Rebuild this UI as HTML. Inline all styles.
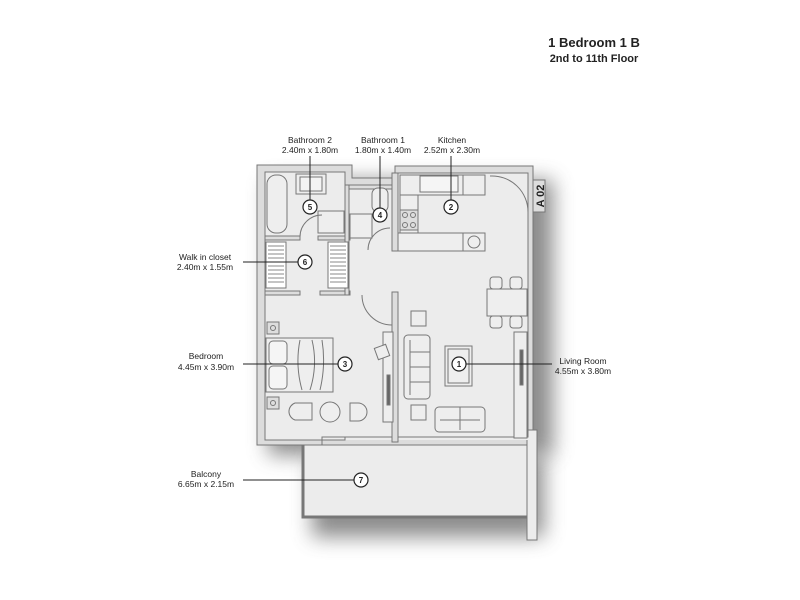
<!DOCTYPE html>
<html><head><meta charset="utf-8"><style>
html,body{margin:0;padding:0;background:#fff;width:800px;height:600px;overflow:hidden}
svg{display:block}
text{font-family:"Liberation Sans",sans-serif;fill:#222}
</style></head><body>
<svg width="800" height="600" viewBox="0 0 800 600" xmlns="http://www.w3.org/2000/svg">
<defs>
<filter id="sh" x="-20%" y="-20%" width="150%" height="150%"><feGaussianBlur stdDeviation="10"/></filter>
</defs>
<text x="594" y="47" font-size="13" font-weight="bold" text-anchor="middle">1 Bedroom 1 B</text>
<text x="594" y="62" font-size="11" font-weight="bold" text-anchor="middle">2nd to 11th Floor</text>

<!-- shadows -->
<rect x="268" y="180" width="285" height="275" fill="#666" filter="url(#sh)" opacity="0.75"/>
<rect x="312" y="455" width="232" height="82" fill="#666" filter="url(#sh)" opacity="0.75"/>

<g stroke="#777" stroke-width="1">
<!-- outer wall -->
<path d="M257 165 H352 V178 H395 V166 H533 V445 H257 Z" fill="#dcdcdc"/>
<rect x="303" y="445" width="225" height="72" fill="#ececec"/>
<path d="M303 445 V517 H528" fill="none" stroke-width="3" stroke="#777"/>
<rect x="527" y="430" width="10" height="110" fill="#ececec"/>
<!-- floors -->
<g stroke="none" fill="#ececec">
<rect x="265" y="172" width="80" height="268"/>
<rect x="345" y="185" width="183" height="255"/>
<rect x="398" y="173" width="130" height="80"/>
</g>
<path d="M265 172 H345 V185 H392 V173 H528 V437 H345 V440 H265 Z" fill="none"/>
<path d="M345 437 H322 V445" fill="none"/>
<!-- interior walls -->
<rect x="265" y="236" width="35" height="4" fill="#ddd"/>
<rect x="318" y="236" width="32" height="4" fill="#ddd"/>
<rect x="265" y="291" width="35" height="4" fill="#ddd"/>
<rect x="320" y="291" width="30" height="4" fill="#ddd"/>
<rect x="345" y="185" width="4" height="110" fill="#ddd"/>
<rect x="392" y="173" width="6" height="78" fill="#ddd"/>
<rect x="392" y="292" width="6" height="150" fill="#ddd"/>
<rect x="349" y="185" width="43" height="4" fill="#ddd"/>
<!-- bathroom2 -->
<rect x="267" y="175" width="20" height="58" rx="9" fill="#eee"/>
<rect x="296" y="174" width="30" height="20" fill="#eee"/>
<rect x="300" y="177" width="22" height="14" fill="#f3f3f3"/>
<rect x="318" y="211" width="26" height="22" fill="#eee"/>
<path d="M300 237 A 22 22 0 0 1 322 215" fill="none"/>
<!-- bathroom1 -->
<rect x="372" y="188" width="16" height="24" rx="6" fill="#eee"/>
<rect x="350" y="214" width="22" height="24" fill="#eee"/>
<path d="M368 250 A 22 22 0 0 1 390 228" fill="none"/>
<!-- kitchen -->
<rect x="400" y="175" width="85" height="20" fill="#eee"/>
<rect x="420" y="176" width="38" height="16" fill="#f5f5f5"/>
<rect x="463" y="175" width="22" height="20" fill="#eee"/>
<rect x="400" y="195" width="18" height="56" fill="#eee"/>
<rect x="400" y="210" width="18" height="20" fill="#ddd"/>
<circle cx="405" cy="215" r="2.5" fill="none"/><circle cx="413" cy="215" r="2.5" fill="none"/>
<circle cx="405" cy="225" r="2.5" fill="none"/><circle cx="413" cy="225" r="2.5" fill="none"/>
<rect x="398" y="233" width="87" height="18" fill="#eee"/>
<rect x="463" y="233" width="22" height="18" fill="#eee"/>
<circle cx="474" cy="242" r="6" fill="none"/>
<path d="M490 176 A 36 36 0 0 1 528 212" fill="none"/>
<rect x="533" y="180" width="12" height="32" fill="#ddd"/>
<!-- closet shelves -->
<g fill="#fff">
<rect x="266" y="242" width="20" height="46"/><rect x="328" y="242" width="20" height="46"/>
</g>
<g stroke="#888">
<path d="M268 246h16M268 250h16M268 254h16M268 258h16M268 262h16M268 266h16M268 270h16M268 274h16M268 278h16M268 282h16"/>
<path d="M330 246h16M330 250h16M330 254h16M330 258h16M330 262h16M330 266h16M330 270h16M330 274h16M330 278h16M330 282h16"/>
</g>
<path d="M362 295 A 30 30 0 0 0 392 325" fill="none"/>
<!-- bedroom -->
<rect x="267" y="322" width="12" height="12" fill="#ddd"/><circle cx="273" cy="328" r="2.5" fill="none"/>
<rect x="267" y="397" width="12" height="12" fill="#ddd"/><circle cx="273" cy="403" r="2.5" fill="none"/>
<rect x="266" y="338" width="67" height="54" fill="#eee"/>
<rect x="269" y="341" width="18" height="23" rx="4" fill="#f5f5f5"/>
<rect x="269" y="366" width="18" height="23" rx="4" fill="#f5f5f5"/>
<path d="M300 340 Q295 365 302 390 M312 340 Q318 365 310 390 M322 340 Q326 365 320 390" fill="none"/>
<path d="M295 403 H312 V420 H295 A9 9 0 0 1 295 403 Z" fill="#eee"/>
<circle cx="330" cy="412" r="10" fill="#eee"/>
<path d="M350 403 H358 A9 9 0 0 1 358 421 H350 Z" fill="#eee"/>
<rect x="383" y="332" width="10" height="90" fill="#eee"/>
<rect x="376" y="346" width="12" height="12" fill="#eee" transform="rotate(-20 382 352)"/>
<rect x="387" y="375" width="3" height="30" fill="#666"/>
<!-- living -->
<rect x="411" y="311" width="15" height="15" fill="#eee"/>
<rect x="411" y="405" width="15" height="15" fill="#eee"/>
<rect x="404" y="335" width="26" height="64" rx="4" fill="#eee"/>
<path d="M410 340 V395 M410 352 H430 M410 367 H430 M410 382 H430" fill="none"/>
<rect x="445" y="346" width="27" height="40" fill="#eee"/>
<rect x="448" y="349" width="21" height="34" fill="#eee"/>
<rect x="435" y="407" width="50" height="25" rx="4" fill="#eee"/>
<path d="M440 420 H480 M460 407 V430" fill="none"/>
<rect x="487" y="289" width="40" height="27" fill="#eee"/>
<rect x="490" y="277" width="12" height="12" rx="3" fill="#eee"/><rect x="510" y="277" width="12" height="12" rx="3" fill="#eee"/>
<rect x="490" y="316" width="12" height="12" rx="3" fill="#eee"/><rect x="510" y="316" width="12" height="12" rx="3" fill="#eee"/>
<rect x="514" y="332" width="13" height="106" fill="#eee"/>
<rect x="520" y="350" width="3" height="35" fill="#666"/>
</g>
<text x="540" y="196" font-size="11" font-weight="bold" fill="#444" transform="rotate(-90 540 196)" text-anchor="middle" dy="4">A 02</text>

<!-- callouts -->
<g stroke="#222" stroke-width="1" fill="none">
<path d="M310 156 V200"/><path d="M380 156 V208"/><path d="M451 156 V200"/>
<path d="M243 262 H298"/><path d="M243 364 H338"/><path d="M466 364 H552"/><path d="M243 480 H354"/>
</g>
<g stroke="#222" stroke-width="1.2" fill="#fff">
<circle cx="310" cy="207" r="7"/><circle cx="380" cy="215" r="7"/><circle cx="451" cy="207" r="7"/>
<circle cx="305" cy="262" r="7"/><circle cx="345" cy="364" r="7"/><circle cx="459" cy="364" r="7"/><circle cx="361" cy="480" r="7"/>
</g>
<g font-size="8" text-anchor="middle" font-weight="bold">
<text x="310" y="210">5</text><text x="380" y="218">4</text><text x="451" y="210">2</text>
<text x="305" y="265">6</text><text x="345" y="367">3</text><text x="459" y="367">1</text><text x="361" y="483">7</text>
</g>
<g font-size="8.5" text-anchor="middle">
<text x="310" y="143">Bathroom 2</text><text x="310" y="153">2.40m x 1.80m</text>
<text x="383" y="143">Bathroom 1</text><text x="383" y="153">1.80m x 1.40m</text>
<text x="452" y="143">Kitchen</text><text x="452" y="153">2.52m x 2.30m</text>
<text x="205" y="260">Walk in closet</text><text x="205" y="270">2.40m x 1.55m</text>
<text x="206" y="359">Bedroom</text><text x="206" y="370">4.45m x 3.90m</text>
<text x="583" y="364">Living Room</text><text x="583" y="374">4.55m x 3.80m</text>
<text x="206" y="477">Balcony</text><text x="206" y="487">6.65m x 2.15m</text>
</g>
</svg>
</body></html>
